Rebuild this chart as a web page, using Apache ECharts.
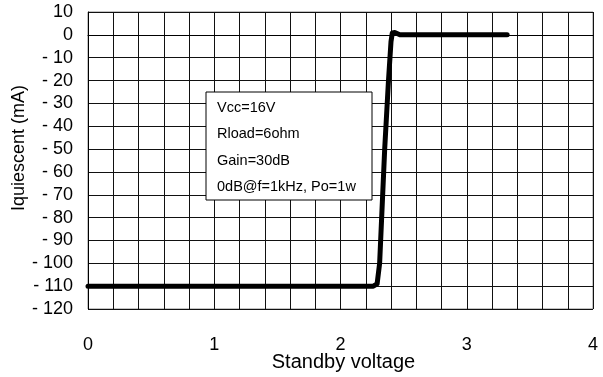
<!DOCTYPE html>
<html>
<head>
<meta charset="utf-8">
<script src="https://cdn.jsdelivr.net/npm/echarts@6/dist/echarts.min.js"></script>
<style>
html,body{margin:0;padding:0;background:#fff;}
#chart{width:603px;height:377px;}
</style>
</head>
<body>
<div id="chart"></div>
<script>
// Data
var voltage = [0, 2.26, 2.29, 2.31, 2.35, 2.38, 2.40, 2.41, 2.43, 2.47, 3.32];
var current = [-110, -110, -109, -100, -50, -20, -3, 0.8, 1, 0, 0];
var xTicks = [0, 1, 2, 3, 4];
var yMin = -120, yMax = 10, yStep = 10;
var notes = ['Vcc=16V', 'Rload=6ohm', 'Gain=30dB', '0dB@f=1kHz, Po=1w'];
var xName = 'Standby voltage';
var yName = 'Iquiescent (mA)';

var FONT = '"Liberation Sans", Arial, sans-serif';
var points = voltage.map(function (v, i) { return [v, current[i]]; });

var chart = echarts.init(document.getElementById('chart'), null, {renderer: 'canvas'});

var noteChildren = [{
  type: 'rect',
  z: 100,
  shape: {x: 0, y: 0, width: 166, height: 108},
  style: {fill: '#ffffff', stroke: '#000000', lineWidth: 1}
}];
notes.forEach(function (t, i) {
  noteChildren.push({
    type: 'text',
    z: 101,
    x: 11, y: 16 + i * 26.3,
    style: {text: t, fill: '#000', font: '14.5px ' + FONT, verticalAlign: 'middle', align: 'left'}
  });
});

chart.setOption({
  animation: false,
  backgroundColor: '#fff',
  grid: {left: 88, right: 10, top: 12, bottom: 68, show: true, borderColor: '#888', borderWidth: 1,
         containLabel: false, outerBoundsMode: 'none'},
  xAxis: {
    type: 'value',
    min: xTicks[0], max: xTicks[xTicks.length - 1], interval: 1,
    name: xName, nameLocation: 'middle', nameGap: 43, nameMoveOverlap: false,
    nameTextStyle: {fontSize: 20, color: '#000', fontFamily: FONT, padding: [0, 0, 0, 6]},
    axisLine: {show: true, lineStyle: {color: '#000', width: 1}},
    axisTick: {show: false},
    axisLabel: {fontSize: 18, color: '#000', fontFamily: FONT, margin: 27},
    splitLine: {show: true, lineStyle: {color: '#111', width: 1}},
    minorTick: {show: false, splitNumber: 5},
    minorSplitLine: {show: true, lineStyle: {color: '#111', width: 1}}
  },
  yAxis: {
    type: 'value',
    min: yMin, max: yMax, interval: yStep,
    name: yName, nameLocation: 'middle', nameGap: 60, nameMoveOverlap: false,
    nameTextStyle: {fontSize: 18, color: '#000', fontFamily: FONT, padding: [0, 0, 0, 25]},
    axisLine: {show: true, lineStyle: {color: '#000', width: 1}},
    axisTick: {show: false},
    axisLabel: {
      fontSize: 18, color: '#000', fontFamily: FONT, margin: 15,
      formatter: function (v) { return v < 0 ? '- ' + Math.abs(v) : String(v); }
    },
    splitLine: {show: true, lineStyle: {color: '#111', width: 1}}
  },
  series: [{
    type: 'line',
    data: points,
    showSymbol: false,
    symbol: 'none',
    smooth: false,
    lineStyle: {color: '#000', width: 5, cap: 'round', join: 'round'},
    z: 3
  }],
  graphic: {
    elements: [{
      type: 'group',
      x: 206, y: 92, z: 100,
      children: noteChildren
    }]
  }
});
</script>
</body>
</html>
